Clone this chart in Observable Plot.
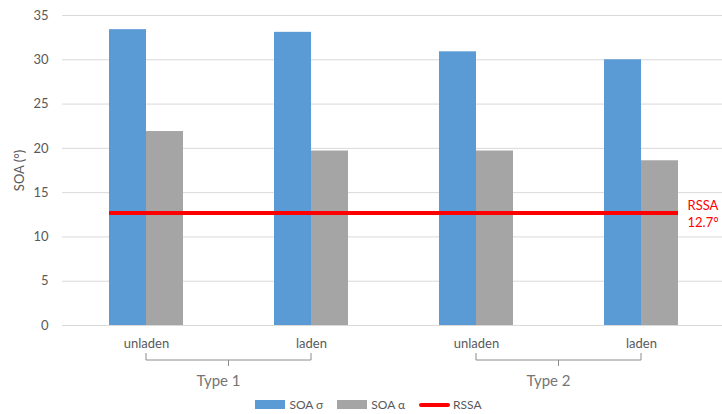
<!DOCTYPE html>
<html><head><meta charset="utf-8">
<script src="https://cdn.jsdelivr.net/npm/d3@7"></script>
<script src="https://cdn.jsdelivr.net/npm/@observablehq/plot@0.6"></script>
<style>
body{margin:0;background:#fff;font-family:Lato,"Open Sans",sans-serif;}
#chart svg{display:block;}
#legend{height:19px;display:flex;align-items:center;justify-content:center;padding-left:15px;box-sizing:border-box;width:722px;font-size:12px;color:#595959;}
#legend .item{display:flex;align-items:center;margin:0 7px;}
#legend .sw{width:30px;height:9px;margin-right:4px;}
#legend .ln{width:31px;height:4px;margin-right:3px;border-radius:2px;}
</style></head><body>
<div id="chart"></div>
<div id="legend"></div>
<script>
const categories = ["unladen", "laden", "unladen", "laden"];
const groups = ["Type 1", "Type 1", "Type 2", "Type 2"];
const soaSigma = [33.4, 33.1, 30.9, 30.0];
const soaAlpha = [21.9, 19.7, 19.7, 18.6];
const rssa = 12.7;
const rssaLabel = "RSSA\n12.7°";
const yTicks = [0, 5, 10, 15, 20, 25, 30, 35];
const seriesNames = ["SOA σ", "SOA α", "RSSA"];
const seriesColors = ["#5b9bd5", "#a5a5a5", "#ff0000"];

const keys = categories.map((c, i) => groups[i] + "|" + c);
const sigmaRows = keys.map((k, i) => ({key: k, value: soaSigma[i]}));
const alphaRows = keys.map((k, i) => ({key: k, value: soaAlpha[i]}));
const rssaRows = [{first: keys[0], last: keys[keys.length - 1], value: rssa, label: rssaLabel}];
const groupNames = [...new Set(groups)];

const halfBar = 37;
const textColor = "#595959";

function brackets(index, scales, values, dims) {
  const x = scales.x;
  const bw = x.bandwidth();
  const g = d3.create("svg:g");
  const yb = dims.height - dims.marginBottom + 35;
  for (const grp of groupNames) {
    const ks = keys.filter((k, i) => groups[i] === grp);
    const xa = x(ks[0]) + bw / 2, xb = x(ks[ks.length - 1]) + bw / 2;
    const xm = (xa + xb) / 2;
    g.append("path")
      .attr("d", `M${xa},${yb - 7}V${yb}H${xb}V${yb - 7}M${xm},${yb}v6`)
      .attr("fill", "none").attr("stroke", "#8c8c8c").attr("stroke-width", 1);
    g.append("text")
      .attr("x", xm - 10).attr("y", yb + 26)
      .attr("text-anchor", "middle")
      .attr("font-size", 15).attr("fill", "#757575")
      .attr("font-family", "Lato, sans-serif")
      .text(grp);
  }
  return g.node();
}

const chart = Plot.plot({
  width: 722,
  height: 395,
  marginLeft: 62,
  marginRight: 0,
  marginTop: 15,
  marginBottom: 70,
  style: {fontFamily: "Lato, sans-serif", fontSize: "13px", background: "#fff"},
  x: {domain: keys, paddingInner: 0.5534, paddingOuter: 0.268, align: 0.517},
  y: {domain: [0, 35]},
  marks: [
    Plot.gridY(yTicks, {stroke: "#d9d9d9", strokeOpacity: 1}),
    Plot.axisY(yTicks, {tickSize: 0, tickPadding: 14, color: textColor, fontSize: 13,
      label: "SOA (°)", labelAnchor: "center", labelArrow: "none", labelOffset: 48}),
    Plot.axisX({tickSize: 0, tickPadding: 13, color: textColor, fontSize: 13,
      tickFormat: (d) => d.split("|")[1], label: null}),
    Plot.barY(sigmaRows, {x: "key", y: "value", fill: seriesColors[0], insetLeft: 0, insetRight: halfBar}),
    Plot.barY(alphaRows, {x: "key", y: "value", fill: seriesColors[1], insetLeft: halfBar, insetRight: 0}),
    Plot.ruleY(rssaRows, {y: "value", x1: "first", x2: "last", stroke: seriesColors[2], strokeWidth: 4}),
    Plot.text(rssaRows, {x: "last", y: "value", dx: 46, text: "label",
      textAnchor: "start", lineAnchor: "middle", fill: seriesColors[2], fontSize: 13, lineHeight: 1.3}),
    brackets
  ]
});
document.getElementById("chart").appendChild(chart);

const legend = document.getElementById("legend");
seriesNames.forEach((name, i) => {
  const item = document.createElement("div");
  item.className = "item";
  const sw = document.createElement("div");
  sw.className = i === 2 ? "ln" : "sw";
  sw.style.background = seriesColors[i];
  item.appendChild(sw);
  const t = document.createElement("span");
  t.textContent = name;
  item.appendChild(t);
  legend.appendChild(item);
});
</script>
</body></html>
